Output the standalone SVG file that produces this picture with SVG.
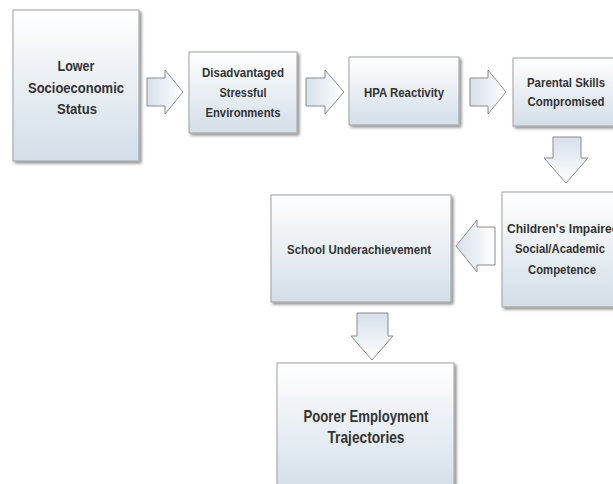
<svg xmlns="http://www.w3.org/2000/svg" width="613" height="484" viewBox="0 0 613 484">
<defs>
<linearGradient id="boxg" x1="0" y1="0" x2="0" y2="1">
<stop offset="0" stop-color="#ffffff"/>
<stop offset="1" stop-color="#d3dee8"/>
</linearGradient>
<linearGradient id="arrh" x1="0" y1="0" x2="1" y2="0">
<stop offset="0" stop-color="#d6e0ea"/>
<stop offset="1" stop-color="#ffffff"/>
</linearGradient>
<linearGradient id="arrv" x1="0" y1="0" x2="0" y2="1">
<stop offset="0" stop-color="#d6e0ea"/>
<stop offset="1" stop-color="#ffffff"/>
</linearGradient>
<filter id="sh" x="-10%" y="-10%" width="130%" height="130%">
<feDropShadow dx="2" dy="2" stdDeviation="1.5" flood-color="#000" flood-opacity="0.45"/>
</filter>
<style>
.box{fill:url(#boxg);stroke:#a0a0a0;stroke-width:1;filter:url(#sh)}
.ah{fill:url(#arrh);stroke:#8a8a8a;stroke-width:1}
.av{fill:url(#arrv);stroke:#8a8a8a;stroke-width:1}
text{font-family:"Liberation Sans",Arial,sans-serif;font-weight:bold;fill:#333333;text-anchor:middle}
.t12{font-size:13px}
.t14{font-size:14.5px}
.t15{font-size:16.5px}
</style>
</defs>
<rect width="613" height="484" fill="#ffffff"/>
<g id="connectors">
<path class="ah" d="M147,78 H165 V70 L183,92 L165,114 V106 H147 Z"/>
<path class="ah" d="M306,78 H325 V70 L344,92 L325,114 V106 H306 Z"/>
<path class="ah" d="M470,78 H488 V70 L506,92 L488,114 V106 H470 Z"/>
<path class="av" d="M553,137 H581 V158 H588 L566,183 L544,158 H553 Z"/>
<path class="ah" d="M495,227 H477 V220 L456,246 L477,272 V265 H495 Z"/>
<path class="av" d="M357,313 H388 V336 H393 L372,360 L351,336 H357 Z"/>
</g>
<g id="n1">
<rect class="box" x="13" y="10" width="126" height="151"/>
<text class="t14" x="76" y="71" textLength="37" lengthAdjust="spacingAndGlyphs">Lower</text>
<text class="t14" x="76" y="93" textLength="96" lengthAdjust="spacingAndGlyphs">Socioeconomic</text>
<text class="t14" x="77" y="114" textLength="40" lengthAdjust="spacingAndGlyphs">Status</text>
</g>
<g id="n2">
<rect class="box" x="189" y="52" width="108" height="81"/>
<text class="t12" x="243" y="77" textLength="82" lengthAdjust="spacingAndGlyphs">Disadvantaged</text>
<text class="t12" x="243" y="97" textLength="47" lengthAdjust="spacingAndGlyphs">Stressful</text>
<text class="t12" x="243" y="117" textLength="75" lengthAdjust="spacingAndGlyphs">Environments</text>
</g>
<g id="n3">
<rect class="box" x="349" y="57" width="110" height="68"/>
<text class="t12" x="404" y="97" textLength="80" lengthAdjust="spacingAndGlyphs">HPA Reactivity</text>
</g>
<g id="n4">
<rect class="box" x="513" y="58" width="110" height="68"/>
<text class="t12" x="566" y="87" textLength="78" lengthAdjust="spacingAndGlyphs">Parental Skills</text>
<text class="t12" x="566" y="106" textLength="77" lengthAdjust="spacingAndGlyphs">Compromised</text>
</g>
<g id="n5">
<rect class="box" x="502" y="192" width="120" height="115"/>
<text class="t12" x="507" y="233" textLength="112" lengthAdjust="spacingAndGlyphs" style="text-anchor:start">Children's Impaired</text>
<text class="t12" x="560" y="253" textLength="90" lengthAdjust="spacingAndGlyphs">Social/Academic</text>
<text class="t12" x="562" y="274" textLength="68" lengthAdjust="spacingAndGlyphs">Competence</text>
</g>
<g id="n6">
<rect class="box" x="271" y="195" width="180" height="107"/>
<text class="t12" x="359" y="254" textLength="144" lengthAdjust="spacingAndGlyphs">School Underachievement</text>
</g>
<g id="n7">
<rect class="box" x="277" y="363" width="177" height="130"/>
<text class="t15" x="366" y="422" textLength="125" lengthAdjust="spacingAndGlyphs">Poorer Employment</text>
<text class="t15" x="366" y="443" textLength="77" lengthAdjust="spacingAndGlyphs">Trajectories</text>
</g>
</svg>
